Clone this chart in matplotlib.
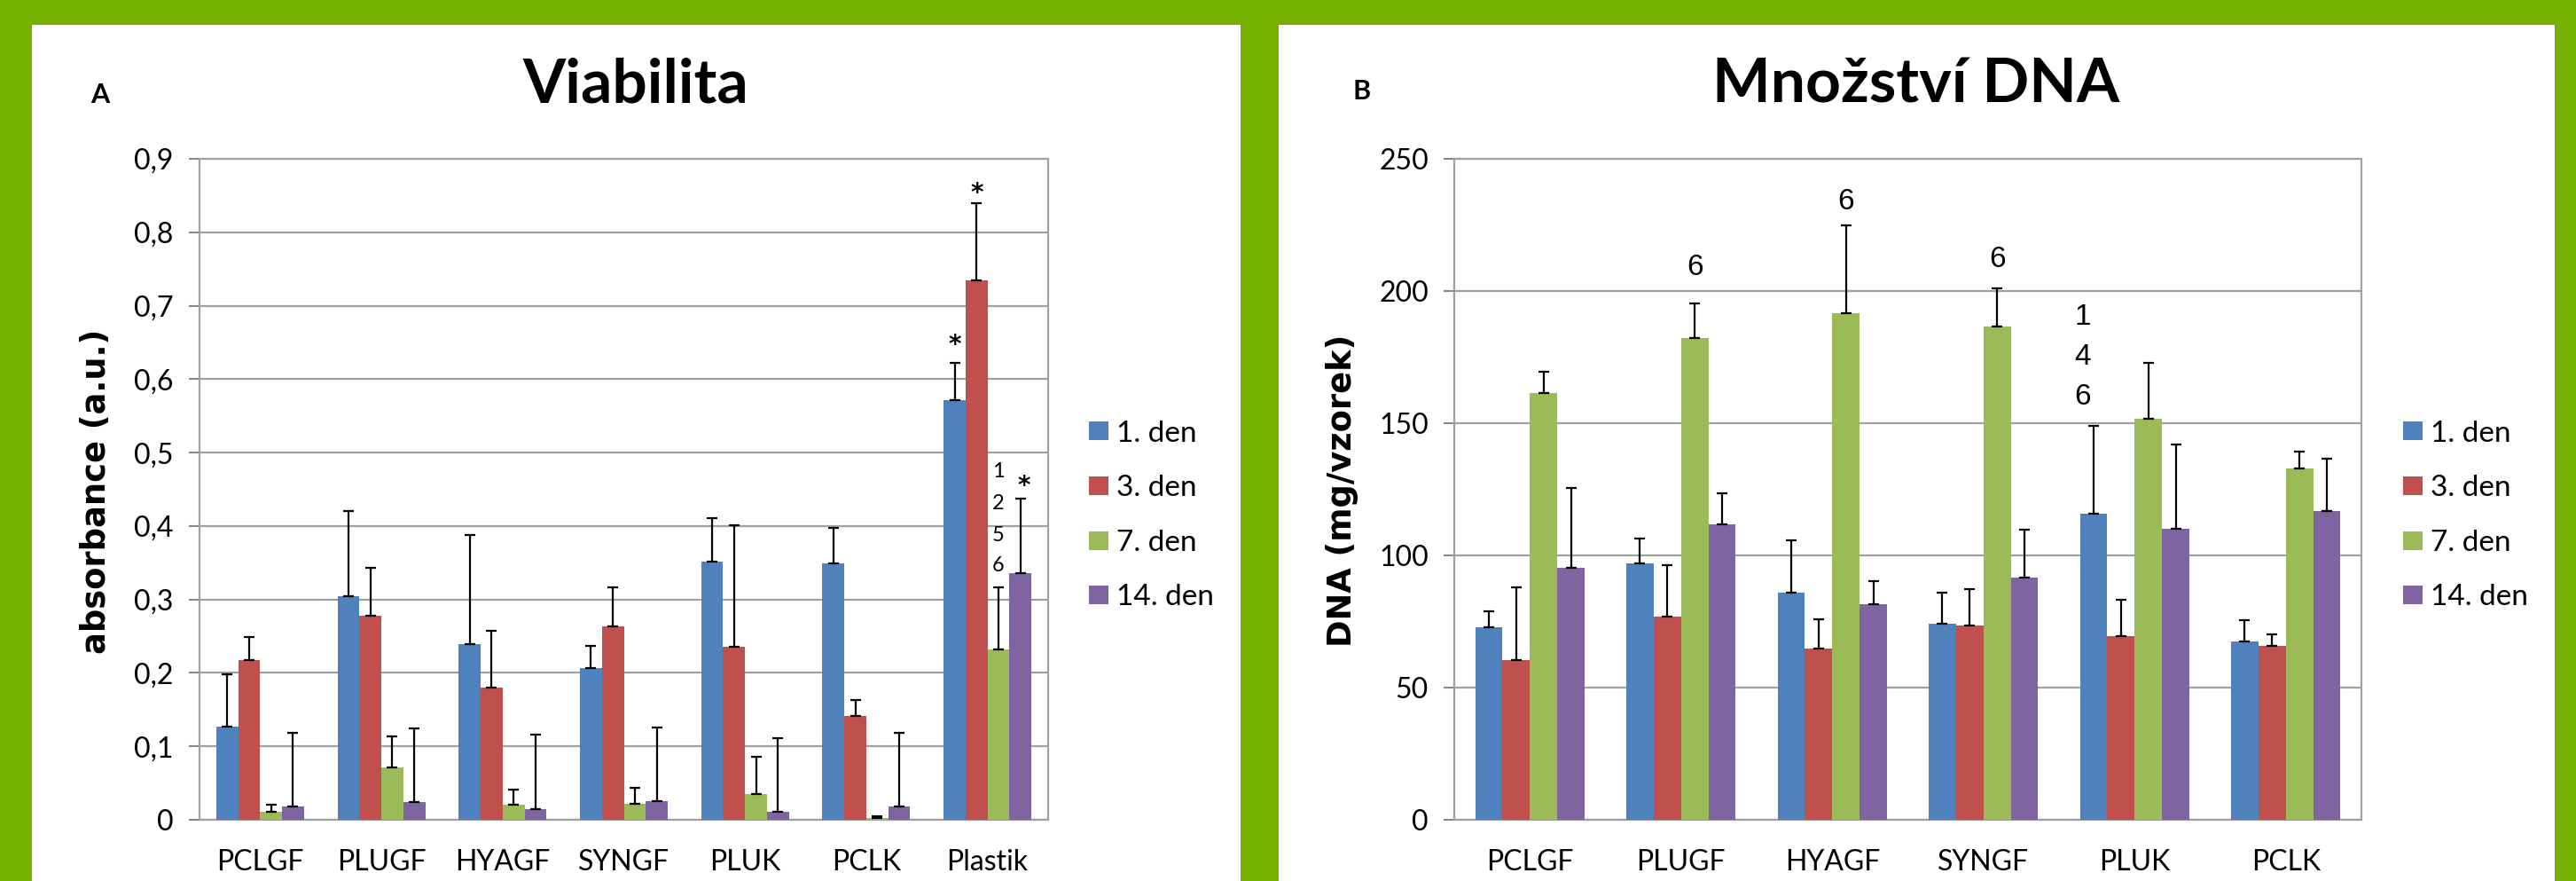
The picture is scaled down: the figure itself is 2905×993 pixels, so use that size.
import numpy as np
import matplotlib.pyplot as plt
from matplotlib.patches import Rectangle

W, H = 2905, 993

days = ["1. den", "3. den", "7. den", "14. den"]
colors = ["#4f81bd", "#c0504d", "#9bbb59", "#8064a2"]

# panel A - viabilita
cats_a = ["PCLGF", "PLUGF", "HYAGF", "SYNGF", "PLUK", "PCLK", "Plastik"]
vals_a = [
    [0.127, 0.304, 0.239, 0.206, 0.352, 0.349, 0.572],
    [0.217, 0.278, 0.180, 0.263, 0.236, 0.141, 0.735],
    [0.011, 0.071, 0.021, 0.022, 0.035, 0.002, 0.232],
    [0.018, 0.024, 0.015, 0.025, 0.011, 0.018, 0.336],
]
err_a = [
    [0.071, 0.117, 0.149, 0.031, 0.059, 0.048, 0.050],
    [0.032, 0.065, 0.077, 0.054, 0.165, 0.022, 0.105],
    [0.010, 0.042, 0.020, 0.022, 0.051, 0.003, 0.084],
    [0.100, 0.101, 0.101, 0.101, 0.100, 0.100, 0.101],
]
ticks_a = [0, 0.1, 0.2, 0.3, 0.4, 0.5, 0.6, 0.7, 0.8, 0.9]
ticklabels_a = ["0", "0,1", "0,2", "0,3", "0,4", "0,5", "0,6", "0,7", "0,8", "0,9"]

# panel B - mnozstvi DNA
cats_b = ["PCLGF", "PLUGF", "HYAGF", "SYNGF", "PLUK", "PCLK"]
vals_b = [
    [72.9, 96.9, 86.0, 74.3, 115.8, 67.3],
    [60.3, 76.9, 64.6, 73.5, 69.5, 65.8],
    [161.4, 182.2, 191.6, 186.7, 151.7, 133.0],
    [95.4, 111.9, 81.4, 91.5, 110.0, 116.8],
]
err_b = [
    [6.1, 9.5, 19.8, 11.7, 33.3, 8.1],
    [27.6, 19.5, 11.2, 13.6, 13.8, 4.5],
    [8.1, 13.2, 33.1, 14.4, 21.2, 6.1],
    [30.1, 11.7, 8.9, 18.1, 31.9, 19.8],
]
ticks_b = [0, 50, 100, 150, 200, 250]

font = "Lato"
fs = 23
fig = plt.figure(figsize=(W / 100, H / 100), dpi=100, facecolor="#76b000")

# white panels
for x0, x1 in [(36, 1399), (1442, 2881)]:
    fig.add_artist(Rectangle((x0 / W, 0), (x1 - x0) / W, 1 - 28 / H,
                             transform=fig.transFigure, facecolor="white",
                             edgecolor="none", zorder=-5))


def draw(ax, cats, vals, errs, ymax):
    n = len(cats)
    x = np.arange(n)
    bw = 0.181
    for i in range(4):
        pos = x + (i - 1.5) * bw
        ax.bar(pos, vals[i], bw, color=colors[i], edgecolor="none",
               label=days[i], zorder=3)
        ax.errorbar(pos, vals[i], yerr=[np.zeros(n), errs[i]], fmt="none",
                    ecolor="black", elinewidth=1.6, capsize=4, capthick=1.6,
                    zorder=4)
    ax.set_xlim(-0.5, n - 0.5)
    ax.set_ylim(0, ymax)
    ax.set_xticks(x)
    ax.set_xticklabels(cats, fontsize=fs, family=font)
    ax.tick_params(axis="x", length=0, pad=24)
    ax.tick_params(axis="y", length=9, width=1.5, color="#888888", pad=12,
                   labelsize=fs, direction="out")
    ax.yaxis.grid(True, color="#a0a0a0", linewidth=1.6, zorder=0)
    ax.set_axisbelow(True)
    for s in ax.spines.values():
        s.set_color("#a0a0a0")
        s.set_linewidth(1.6)


axA = fig.add_axes([225 / W, 1 - 924 / H, 957 / W, 745 / H])
draw(axA, cats_a, vals_a, err_a, 0.9)
axA.set_yticks(ticks_a)
axA.set_yticklabels(ticklabels_a, family=font)

axB = fig.add_axes([1640 / W, 1 - 924 / H, 1023 / W, 745 / H])
draw(axB, cats_b, vals_b, err_b, 250)
axB.set_yticks(ticks_b)
axB.set_yticklabels([str(t) for t in ticks_b], family=font)

# significance marks, panel A (Plastik group)
pl = 6
star = dict(ha="center", va="baseline", fontsize=20, fontweight="bold",
            family="DejaVu Sans")
axA.text(pl - 1.5 * 0.181, 0.637, "*", **star)
axA.text(pl - 0.5 * 0.181, 0.843, "*", **star)
axA.text(pl + 1.5 * 0.181 + 0.03, 0.445, "*", **star)
for lab, yv in zip(["1", "2", "5", "6"], [0.474, 0.431, 0.387, 0.346]):
    axA.text(pl + 0.5 * 0.181, yv, lab, ha="center", va="center", fontsize=17,
             family=font)

# significance marks, panel B
for gi, yv in [(1, 209), (2, 233.6), (3, 211.8)]:
    axB.text(gi + 0.5 * 0.181, yv, "6", ha="center", va="center", fontsize=24,
             family="Liberation Sans")
for lab, yv in zip(["1", "4", "6"], [190, 174.9, 160]):
    axB.text(4 - 1.5 * 0.181 - 0.07, yv, lab, ha="center", va="center",
             fontsize=24, family="Liberation Sans")

# axis titles
fig.text(109 / W, 1 - 554 / H, "absorbance (a.u.)", rotation=90,
         ha="center", va="center", fontsize=26.5, fontweight="bold",
         family="DejaVu Sans")
fig.text(1514 / W, 1 - 553 / H, "DNA (mg/vzorek)", rotation=90,
         ha="center", va="center", fontsize=26.5, fontweight="bold",
         family="DejaVu Sans")

fig.text(717 / W, 1 - 96 / H, "Viabilita", ha="center", va="center",
         fontsize=50, fontweight="bold", family=font)
fig.text(2161 / W, 1 - 96 / H, "Množství DNA", ha="center", va="center",
         fontsize=50, fontweight="bold", family=font)
fig.text(102 / W, 1 - 107 / H, "A", ha="left", va="center", fontsize=22,
         fontweight="bold", family=font)
fig.text(1525 / W, 1 - 103 / H, "B", ha="left", va="center", fontsize=22,
         fontweight="bold", family=font)

for ax, lx in [(axA, 1228), (axB, 2710)]:
    ax.legend(loc="center left", bbox_to_anchor=(lx / W, 1 - 581 / H),
              bbox_transform=fig.transFigure, frameon=False, borderpad=0,
              borderaxespad=0, handlelength=0.66, handleheight=0.6,
              handletextpad=0.27, labelspacing=0.95,
              prop={"family": font, "size": 24})

fig.savefig("out.png", dpi=100, facecolor=fig.get_facecolor())
